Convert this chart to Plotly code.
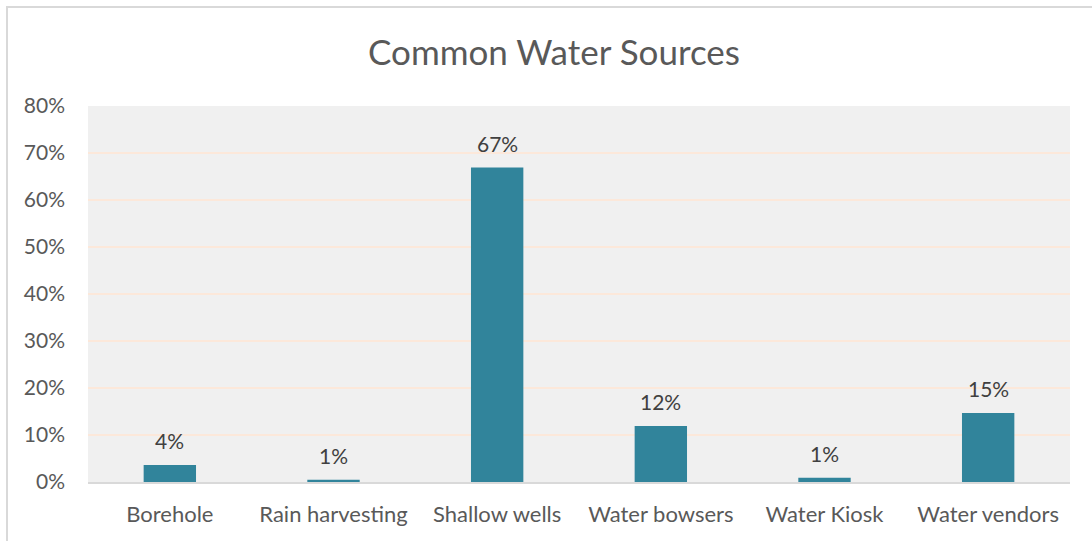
import plotly.graph_objects as go

categories = ["Borehole", "Rain harvesting", "Shallow wells", "Water bowsers", "Water Kiosk", "Water vendors"]
values = [0.036, 0.005, 0.669, 0.119, 0.009, 0.147]
labels = ["4%", "1%", "67%", "12%", "1%", "15%"]
y_ticks = [0, 0.1, 0.2, 0.3, 0.4, 0.5, 0.6, 0.7, 0.8]

FONT = "Lato, 'Open Sans', sans-serif"
TXT = "#595959"

fig = go.Figure()
fig.add_trace(go.Bar(
    x=categories, y=values, marker=dict(color="#31849b", line=dict(width=0)),
    width=0.32, hoverinfo="skip",
))
for c, v, t in zip(categories, values, labels):
    fig.add_annotation(x=c, y=v, text=t, showarrow=False, yanchor="bottom",
                       yshift=10, font=dict(family=FONT, size=21, color="#404040"))

fig.update_layout(
    width=1092, height=541,
    margin=dict(l=88, r=22, t=106, b=59),
    paper_bgcolor="white", plot_bgcolor="#f0f0f0",
    showlegend=False,
    title=dict(text="Common Water Sources", x=(554-88)/982, xanchor="center", xref="paper",
               y=1 - 53/541, yanchor="middle",
               font=dict(family=FONT, size=35, color=TXT)),
    font=dict(family=FONT, color=TXT),
    bargap=0.68,
)
fig.update_yaxes(range=[0, 0.8], tickvals=y_ticks, tickformat=".0%",
                 gridcolor="#fce8da", gridwidth=2, zeroline=False,
                 showline=False, ticks="", ticklabelstandoff=22,
                 tickfont=dict(family=FONT, size=21, color=TXT))
fig.update_xaxes(showline=True, linecolor="#d9d9d9", linewidth=2, ticks="",
                 ticklabelstandoff=12,
                 tickfont=dict(family=FONT, size=22, color=TXT))
fig.add_shape(type="rect", xref="paper", yref="paper",
              x0=-81/982, x1=1.2, y0=-0.3, y1=475/376,
              line=dict(color="#d9d9d9", width=2), layer="below")
fig.write_html("out.html")
